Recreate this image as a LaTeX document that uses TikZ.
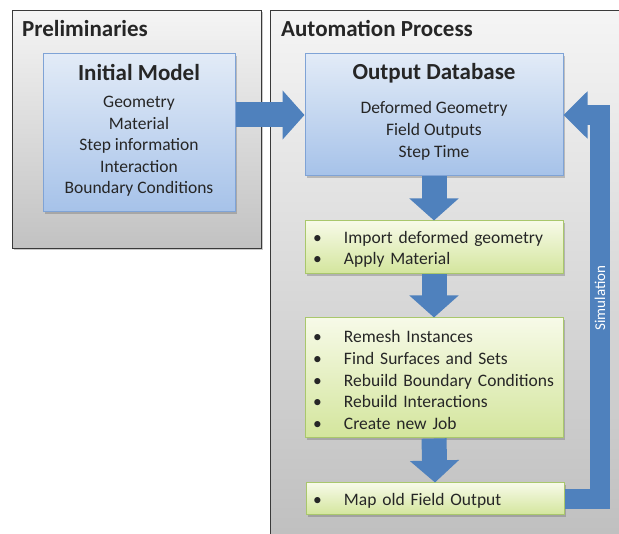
\documentclass[tikz,border=0pt]{standalone}
\usepackage{fontspec}
\setmainfont{Carlito}
\usetikzlibrary{arrows.meta,shadows,calc}

\definecolor{frameline}{HTML}{3A3A3A}
\definecolor{bluetop}{HTML}{E2EBF7}
\definecolor{bluebot}{HTML}{A6C2E9}
\definecolor{blueline}{HTML}{7FA3D6}
\definecolor{greentop}{HTML}{F7FAE8}
\definecolor{greenbot}{HTML}{D3E59C}
\definecolor{greenline}{HTML}{A9C76C}
\definecolor{flowblue}{HTML}{4F81BD}
\definecolor{ink}{HTML}{262626}

\tikzset{
  softshadow/.style={drop shadow={shadow xshift=1.5pt, shadow yshift=-2pt, opacity=.35, fill=black!60}},
  frame/.style={draw=frameline, line width=1pt, top color=black!4, bottom color=black!24,
    softshadow, anchor=north west, inner sep=0pt},
  bluebox/.style={draw=blueline, line width=1pt, top color=bluetop, bottom color=bluebot,
    softshadow, inner sep=0pt},
  greenbox/.style={draw=greenline, line width=1pt, top color=greentop, bottom color=greenbot,
    softshadow, inner sep=0pt, minimum width=258pt},
  steptext/.style={inner sep=0pt, text width=242pt, align=left,
    font=\fontsize{17.5}{21.6}\selectfont, text=ink},
  heading/.style={font=\bfseries\fontsize{23}{26}\selectfont, text=ink, anchor=west, inner sep=0pt},
  boxtitle/.style={font=\bfseries\fontsize{23}{26}\selectfont, text=ink, inner sep=0pt},
  body/.style={font=\fontsize{17.5}{21.6}\selectfont, text=ink, align=center, inner sep=0pt},
  flow/.style={draw=flowblue, line width=25pt, -{Triangle[length=22pt,width=48pt]}},
  backflow/.style={draw=flowblue, line width=20pt, -{Triangle[length=24pt,width=46pt]}},
}
% one bulleted line, never wrapped
\newcommand{\itm}[1]{\mbox{\makebox[31pt][l]{\textbullet}#1}}

\begin{document}
\begin{tikzpicture}[x=1pt,y=-1pt]
\useasboundingbox (0,0) rectangle (619,534);
\clip (0,0) rectangle (619,534);

% outer panels
\node[frame, minimum width=249pt, minimum height=238pt] (prelim) at (12,10) {};
\node[frame, minimum width=400pt, minimum height=580pt, bottom color=black!27] (auto) at (270,10) {};
\node[heading] (prelimhead) at (22,29) {Preliminaries};
\node[heading] (autohead) at (281,29) {Automation Process};

% blue boxes
\node[bluebox, minimum width=192pt, minimum height=158pt] (im) at (139,133) {};
\node[boxtitle] (imtitle) at (139,73) {Initial Model};
\node[body, anchor=north] (imbody) at (139,96)
  {Geometry\\Material\\Step information\\Interaction\\Boundary Conditions};

\node[bluebox, minimum width=258pt, minimum height=122pt] (od) at (434,115) {};
\node[boxtitle] (odtitle) at (434,73) {Output Database};
\node[body, anchor=north] (odbody) at (434,101.5)
  {Deformed Geometry\\Field Outputs\\Step Time};

% green steps
\node[greenbox, minimum height=53pt] (g1) at (434,247.5) {};
\node[steptext] (g1t) at ($(g1.center)+(0,2)$)
  {\itm{Import deformed geometry}\\\itm{Apply Material}};
\node[greenbox, minimum height=120pt] (g2) at (434,378) {};
\node[steptext] (g2t) at ($(g2.center)+(0,2)$)
  {\itm{Remesh Instances}\\\itm{Find Surfaces and Sets}\\\itm{Rebuild Boundary Conditions}\\\itm{Rebuild Interactions}\\\itm{Create new Job}};
\node[greenbox, minimum height=32pt] (g3) at (435,499) {};
\node[steptext] (g3t) at ($(g3.center)+(-1,2)$)
  {\itm{Map old Field Output}};

% block arrows
\draw[flow] (im.east |- od.west) -- (od.west);
\draw[flow] (od.south) -- (g1.north);
\draw[flow] (g1.south) -- (g2.north);
\draw[flow] (g2.south) -- (g3.north);
\coordinate (bend) at (600,499);
\draw[backflow] (g3.east) -- (bend) |- (od.east);
\node[rotate=90, text=white, font=\fontsize{15}{18}\selectfont, inner sep=0pt] (sim) at (600,298) {Simulation};
\end{tikzpicture}
\end{document}
